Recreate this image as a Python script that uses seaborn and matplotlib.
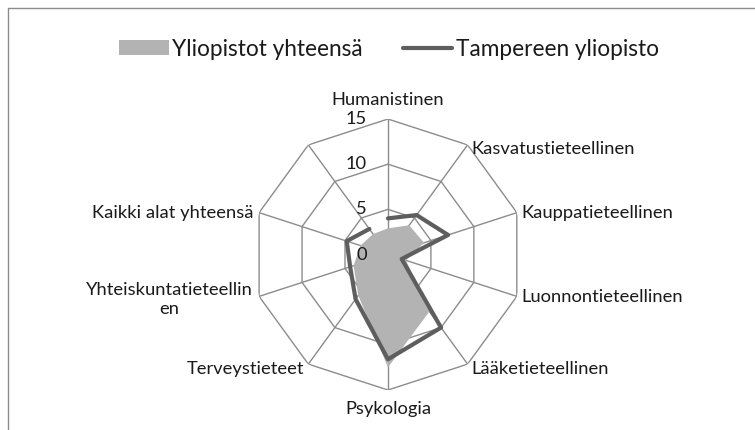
import numpy as np
import pandas as pd
import matplotlib
matplotlib.use("Agg")
import matplotlib.pyplot as plt
import seaborn as sns
from matplotlib.patches import Patch
from matplotlib.lines import Line2D

# -------------------------------
# Data
# -------------------------------
categories = ["Humanistinen", "Kasvatustieteellinen", "Kauppatieteellinen",
              "Luonnontieteellinen", "Lääketieteellinen", "Psykologia",
              "Terveystieteet", "Yhteiskuntatieteellin\nen",
              "Kaikki alat yhteensä", ""]
yliopistot = [2.9, 4.0, 4.2, 2.1, 7.8, 12.5, 5.6, 4.0, 3.2, 2.8]
tampere = [4.0, 5.4, 7.0, 1.6, 10.0, 11.6, 6.1, 4.4, 4.8, 3.5]
ticks = [0, 5, 10, 15]
series_names = ["Yliopistot yhteensä", "Tampereen yliopisto"]

# -------------------------------
# Setup
# -------------------------------
sns.set_style("white")
plt.rcParams['font.family'] = ['Lato', 'DejaVu Sans']

fill_col = "#b3b3b3"
line_col = "#5e5e5e"
grid_col = "#8c8c8c"
txt_col = "#1a1a1a"
fs = 13.2

n = len(categories)
angles = np.arange(n) * 2 * np.pi / n
closed = np.append(angles, angles[0])

fig = plt.figure(figsize=(7.55, 4.3), dpi=100)
ax = fig.add_axes([0.3344, 0.0930, 0.3589, 0.6302], projection="polar")
ax.set_theta_zero_location("N")
ax.set_theta_direction(-1)
ax.set_ylim(0, ticks[-1])
ax.grid(False)
ax.spines["polar"].set_visible(False)
ax.set_xticks([])
ax.set_yticks([])
ax.patch.set_alpha(0)

# polygon grid + spokes
for t in ticks[1:]:
    ax.plot(closed, [t] * (n + 1), color=grid_col, lw=1.0, zorder=1)
for a in angles:
    ax.plot([a, a], [0, ticks[-1]], color=grid_col, lw=1.0, zorder=1)

# area series
ax.fill(closed, np.append(yliopistot, yliopistot[0]), color=fill_col, lw=0, zorder=2)

# line series
df = pd.DataFrame({"theta": closed, "value": np.append(tampere, tampere[0])})
sns.lineplot(data=df, x="theta", y="value", sort=False, ax=ax,
             color=line_col, lw=3.0, zorder=3)
ax.set_xlabel("")
ax.set_ylabel("")

# radial tick labels
for t in ticks:
    ax.annotate(str(t), xy=(0, t), xytext=(-21, 0), textcoords="offset pixels",
                ha="right", va="center", fontsize=fs, color=txt_col)

# category labels
offsets = [(0, 19, "center"), (4, -4, "left"), (5, 0, "left"), (5, -1, "left"),
           (4, -5, "left"), (0, -19, "center"), (-4, -5, "right"),
           (-6, -3, "right"), (-6, 0, "right"), (0, 0, "right")]
for a, lab, (dx, dy, ha) in zip(angles, categories, offsets):
    ax.annotate(lab, xy=(a, ticks[-1]), xytext=(dx, dy), textcoords="offset pixels",
                ha=ha, va="center", fontsize=fs, color=txt_col,
                multialignment="center", annotation_clip=False)

# legend
handles = [Patch(facecolor=fill_col, edgecolor="none"),
           Line2D([0], [0], color=line_col, lw=3.0)]
fig.legend(handles, series_names, loc="center", bbox_to_anchor=(389 / 755, 1 - 49 / 430),
           ncol=2, frameon=False, fontsize=16.3, handlelength=2.2, handleheight=0.62,
           handletextpad=0.15, columnspacing=1.75, labelcolor=txt_col,
           borderpad=0, borderaxespad=0)

# chart border
fig.add_artist(Line2D([7.5 / 755, 7.5 / 755], [0, 1 - 8 / 430], color=grid_col, lw=1.0))
fig.add_artist(Line2D([7.5 / 755, 1], [1 - 8 / 430, 1 - 8 / 430], color=grid_col, lw=1.0))

fig.savefig("out.png", dpi=100)
